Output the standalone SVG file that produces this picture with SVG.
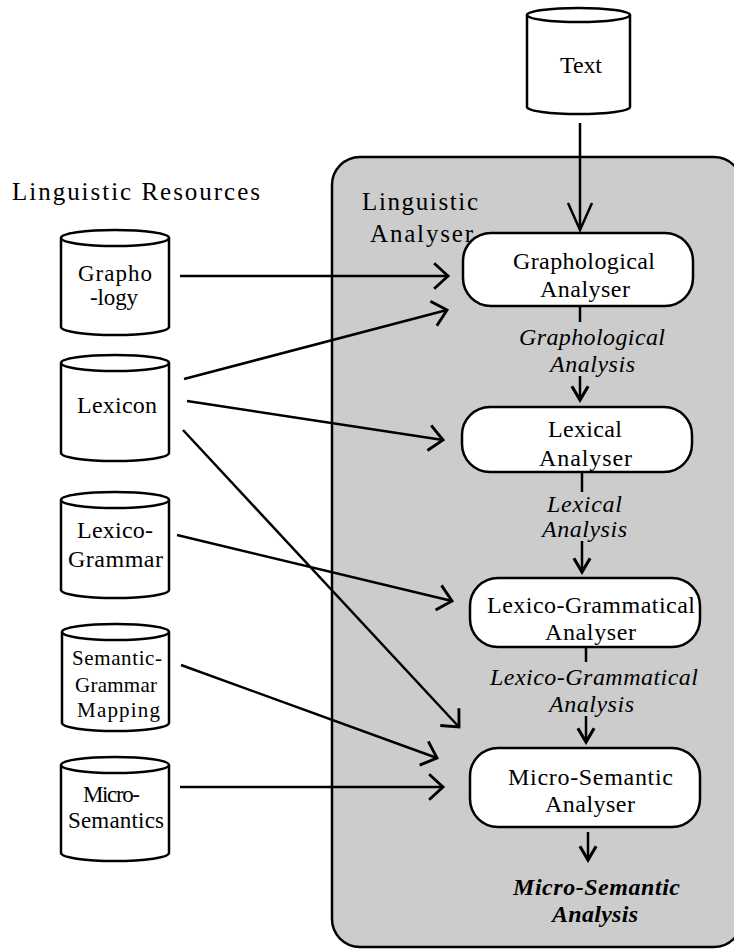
<svg xmlns="http://www.w3.org/2000/svg" width="734" height="950" viewBox="0 0 734 950">
  <style>
    .bg { fill: #ffffff; }
    .panel { fill: #cccccc; stroke: #000; stroke-width: 2.5; }
    .cyl { fill: #ffffff; stroke: #000; stroke-width: 2.5; }
    .proc { fill: #ffffff; stroke: #000; stroke-width: 2.5; }
    text { font-family: 'Liberation Serif', 'Times New Roman', serif; fill: #000; }
    .it { font-style: italic; }
    .bi { font-style: italic; font-weight: bold; }
    .edge { fill: none; stroke: #000; stroke-width: 2.5; }
  </style>
  <defs>
    <marker id="open" markerUnits="userSpaceOnUse" markerWidth="30" markerHeight="30" viewBox="-14 -13 16 26" refX="0" refY="0" orient="auto">
      <path d="M-12,-11 L0,0 L-12,11" fill="none" stroke="#000" stroke-width="2.5"/>
    </marker>
    <marker id="small" markerUnits="userSpaceOnUse" markerWidth="20" markerHeight="20" viewBox="-13 -8 15 16" refX="0" refY="0" orient="auto">
      <path d="M-11,-6.5 L0,0 L-11,6.5" fill="none" stroke="#000" stroke-width="2.5"/>
    </marker>
  </defs>

  <rect class="bg" x="0" y="0" width="734" height="950"/>

  <!-- analyser panel -->
  <g id="panel">
    <rect class="panel" x="332" y="157" width="410" height="790" rx="28" ry="28"/>
    <text x="362" y="210" font-size="25" textLength="116" lengthAdjust="spacing">Linguistic</text>
    <text x="370" y="242" font-size="25" textLength="103" lengthAdjust="spacing">Analyser</text>
  </g>

  <text x="12" y="200" font-size="25" textLength="248" lengthAdjust="spacing">Linguistic Resources</text>

  <!-- input text store -->
  <g id="text-store">
    <path class="cyl" d="M527,15 L527,107 A51.5,7 0 0 0 630,107 L630,15"/>
    <ellipse class="cyl" cx="578.5" cy="15" rx="51.5" ry="7"/>
    <text x="560" y="73" font-size="24" textLength="42" lengthAdjust="spacing">Text</text>
  </g>

  <!-- resources -->
  <g id="graphology">
    <path class="cyl" d="M61,238 L61,327 A54,8 0 0 0 169,327 L169,238"/>
    <ellipse class="cyl" cx="115" cy="238" rx="54" ry="8"/>
    <text x="78" y="281" font-size="23" textLength="74" lengthAdjust="spacing">Grapho</text>
    <text x="90" y="305" font-size="23" textLength="48" lengthAdjust="spacing">-logy</text>
  </g>

  <g id="lexicon">
    <path class="cyl" d="M61,363 L61,453 A54,8 0 0 0 169,453 L169,363"/>
    <ellipse class="cyl" cx="115" cy="363" rx="54" ry="8"/>
    <text x="77" y="413" font-size="24" textLength="80" lengthAdjust="spacing">Lexicon</text>
  </g>

  <g id="lexico-grammar">
    <path class="cyl" d="M61,500 L61,590 A54,8 0 0 0 169,590 L169,500"/>
    <ellipse class="cyl" cx="115" cy="500" rx="54" ry="8"/>
    <text x="77" y="538" font-size="24" textLength="76" lengthAdjust="spacing">Lexico-</text>
    <text x="68" y="567" font-size="24" textLength="95" lengthAdjust="spacing">Grammar</text>
  </g>

  <g id="sem-gram-mapping">
    <path class="cyl" d="M62,632 L62,723 A53.5,8 0 0 0 169,723 L169,632"/>
    <ellipse class="cyl" cx="115.5" cy="632" rx="53.5" ry="8"/>
    <text x="72" y="665" font-size="21" textLength="90" lengthAdjust="spacing">Semantic-</text>
    <text x="75" y="692" font-size="21" textLength="82" lengthAdjust="spacing">Grammar</text>
    <text x="77" y="717" font-size="21" textLength="83" lengthAdjust="spacing">Mapping</text>
  </g>

  <g id="micro-semantics">
    <path class="cyl" d="M61,765 L61,853 A54,8 0 0 0 169,853 L169,765"/>
    <ellipse class="cyl" cx="115" cy="765" rx="54" ry="8"/>
    <text x="83" y="802" font-size="23" textLength="57" lengthAdjust="spacing">Micro-</text>
    <text x="68" y="828" font-size="23" textLength="96" lengthAdjust="spacing">Semantics</text>
  </g>

  <!-- analysers -->
  <g id="graphological-analyser">
    <rect class="proc" x="463" y="233" width="230" height="73" rx="28" ry="28"/>
    <text x="513" y="269" font-size="24" textLength="142" lengthAdjust="spacing">Graphological</text>
    <text x="540" y="297" font-size="24" textLength="90" lengthAdjust="spacing">Analyser</text>
  </g>

  <g id="lexical-analyser">
    <rect class="proc" x="462" y="407" width="230" height="65" rx="28" ry="28"/>
    <text x="548" y="437" font-size="24" textLength="74" lengthAdjust="spacing">Lexical</text>
    <text x="539" y="466" font-size="24" textLength="93" lengthAdjust="spacing">Analyser</text>
  </g>

  <g id="lexico-grammatical-analyser">
    <rect class="proc" x="470" y="578" width="230" height="69" rx="28" ry="28"/>
    <text x="487" y="613" font-size="24" textLength="208" lengthAdjust="spacing">Lexico-Grammatical</text>
    <text x="545" y="640" font-size="24" textLength="91" lengthAdjust="spacing">Analyser</text>
  </g>

  <g id="micro-semantic-analyser">
    <rect class="proc" x="470" y="748" width="230" height="79" rx="28" ry="28"/>
    <text x="508" y="785" font-size="24" textLength="165" lengthAdjust="spacing">Micro-Semantic</text>
    <text x="545" y="812" font-size="24" textLength="90" lengthAdjust="spacing">Analyser</text>
  </g>

  <!-- intermediate results -->
  <g id="graphological-analysis">
    <text class="it" x="519" y="345" font-size="24" textLength="146" lengthAdjust="spacing">Graphological</text>
    <text class="it" x="550" y="372" font-size="24" textLength="85" lengthAdjust="spacing">Analysis</text>
  </g>
  <g id="lexical-analysis">
    <text class="it" x="547" y="512" font-size="24" textLength="75" lengthAdjust="spacing">Lexical</text>
    <text class="it" x="542" y="537" font-size="24" textLength="85" lengthAdjust="spacing">Analysis</text>
  </g>
  <g id="lexico-grammatical-analysis">
    <text class="it" x="490" y="685" font-size="24" textLength="208" lengthAdjust="spacing">Lexico-Grammatical</text>
    <text class="it" x="549" y="712" font-size="24" textLength="85" lengthAdjust="spacing">Analysis</text>
  </g>
  <g id="micro-semantic-analysis">
    <text class="bi" x="513" y="895" font-size="24" textLength="167" lengthAdjust="spacing">Micro-Semantic</text>
    <text class="bi" x="552" y="922" font-size="24" textLength="86" lengthAdjust="spacing">Analysis</text>
  </g>

  <!-- connectors -->
  <g id="connectors">
    <line class="edge" x1="580" y1="123" x2="580" y2="230"/>
    <path d="M568,203 L580,230 L592,203" fill="none" stroke="#000" stroke-width="2.5"/>

    <line class="edge" x1="180" y1="276" x2="448" y2="276" marker-end="url(#open)"/>
    <line class="edge" x1="184" y1="379" x2="447" y2="310" marker-end="url(#open)"/>
    <line class="edge" x1="187" y1="401" x2="443" y2="440" marker-end="url(#open)"/>
    <line class="edge" x1="183" y1="430" x2="459" y2="727" marker-end="url(#open)"/>
    <line class="edge" x1="177" y1="535" x2="452" y2="601" marker-end="url(#open)"/>
    <line class="edge" x1="181" y1="665" x2="437" y2="758" marker-end="url(#open)"/>
    <line class="edge" x1="180" y1="787" x2="443" y2="787" marker-end="url(#open)"/>

    <line class="edge" x1="580" y1="306" x2="580" y2="322"/>
    <line class="edge" x1="580" y1="376" x2="580" y2="400" marker-end="url(#small)"/>
    <line class="edge" x1="582" y1="472" x2="582" y2="492"/>
    <line class="edge" x1="582" y1="541" x2="582" y2="572" marker-end="url(#small)"/>
    <line class="edge" x1="586" y1="647" x2="586" y2="662"/>
    <line class="edge" x1="586" y1="716" x2="586" y2="742" marker-end="url(#small)"/>
    <line class="edge" x1="588" y1="832" x2="588" y2="860" marker-end="url(#small)"/>
  </g>
</svg>
